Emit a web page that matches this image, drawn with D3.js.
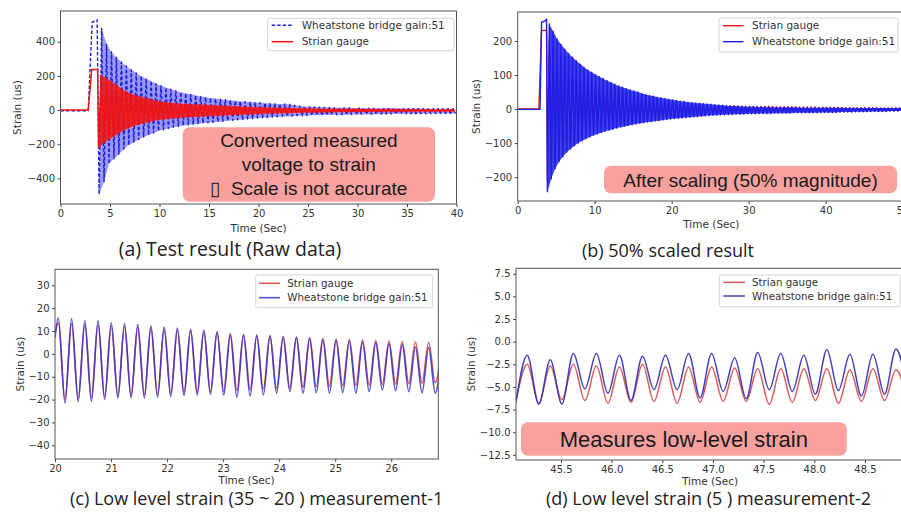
<!DOCTYPE html>
<html>
<head>
<meta charset="utf-8">
<script src="https://cdn.jsdelivr.net/npm/d3@7"></script>
<style>
  body { margin: 0; background: #fff; }
  svg { display: block; }
</style>
</head>
<body>
<svg id="fig" width="901" height="512"></svg>
<script>
/*------------------------------------------------------------------------
 *                  DATA  (time in sec, strain in us)
 *  Oscillating parts are stored as successive peaks / troughs,
 *  one value every `step` seconds starting at the given t0.
 *------------------------------------------------------------------------*/

// (a) raw data
const aStep = 0.5
const aBlueLeadT = [0, 2.8, 3.2, 3.45, 3.7]
const aBlueLeadV = [-4, -4, 515, 520, 528]
const aBlueTroughT0 = 3.9
const aBlueTroughs = [-494,-420,-315,-285,-258,-228,-205,-188,-172,-158,
  -146,-134,-123,-115,-108,-101,-96,-91,-87,-83,
  -80,-77,-75,-72,-69,-66,-63,-60,-57,-55,
  -52,-49,-47,-45,-43,-41,-40,-38,-37,-36,
  -34,-33,-32,-31,-30,-30,-29,-28,-28,-27,
  -27,-26,-26,-25,-25,-24,-24,-24,-23,-23,
  -23,-22,-22,-22,-21,-21,-21,-21,-20,-20,
  -20,-20,-19]
const aBluePeakT0 = 4.15
const aBluePeaks = [480,385,340,308,282,258,236,218,200,185,
  170,155,143,132,122,113,105,98,92,86,
  80,75,71,67,63,60,57,54,51,49,
  47,45,43,41,39,37,36,36,34,28,
  24,21,19,18,17,16,15,14,14,13,
  13,12,12,12,11,11,11,10,10,10,
  10,9,9,9,9,9,8,8,8,8,
  8,8]
const aRedLeadT = [0, 2.8, 3.15, 3.75]
const aRedLeadV = [0, 0, 238, 238]
const aRedTroughT0 = 3.85
const aRedTroughs = [-222,-195,-174,-156,-138,-120,-106,-95,-86,-78,
  -71,-64,-58,-55,-51,-48,-46,-44,-42,-41,
  -39,-38,-36,-35,-33,-32,-31,-29,-28,-27,
  -26,-24,-23,-22,-21,-20,-19,-19,-18,-17,
  -16,-15,-15,-14,-14,-13,-13,-13,-12,-12,
  -12,-11,-11,-11,-11,-10,-10,-10,-10,-10,
  -10,-9,-10,-9,-9,-9,-9,-9,-8,-9,
  -8,-8,-8]
const aRedPeakT0 = 4.1
const aRedPeaks = [205,188,168,150,128,108,96,86,78,70,
  63,56,50,46,43,40,38,36,35,33,
  32,31,29,28,26,25,23,22,21,20,
  18,17,16,15,14,14,13,12,12,11,
  10,10,9,9,9,8,8,8,7,7,
  7,7,6,6,6,6,6,5,5,6,
  5,5,5,5,5,4,5,4,4,4,
  4,4]

// (b) 50% scaled result
const bStep = 0.5
const bRedLeadT = [0, 2.75, 3.1, 3.75]
const bRedLeadV = [0, 0, 231, 231]
const bRedTroughT0 = 3.85
const bRedTroughs = [-212,-190,-170,-152,-136,-120,-106,-95,-86,-78,
  -71,-64,-58,-54,-51,-48,-46,-44,-42,-40,
  -39,-37,-36,-34,-33,-32,-30,-29,-28,-27,
  -26,-24,-23,-22,-21,-20,-19,-18,-18,-17,
  -16,-15,-15,-14,-14,-13,-13,-12,-12,-12,
  -11,-11,-11,-10,-10,-10,-10,-10,-9,-9,
  -9,-9,-9,-9,-8,-8,-8,-8,-8,-8,
  -8,-7,-7,-7,-7,-7,-7,-6,-6,-6,
  -6,-6,-6,-6,-6,-5,-5,-5,-5,-5,
  -5,-5,-5]
const bRedPeakT0 = 4.1
const bRedPeaks = [205,188,168,150,128,108,96,86,78,70,
  63,56,50,46,43,40,38,36,34,32,
  30,28,26,24,22,21,19,18,17,16,
  15,15,14,13,13,12,12,11,11,11,
  10,10,10,10,9,9,9,9,9,9,
  8,8,8,8,8,8,8,8,8,7,
  7,7,7,7,7,6,6,6,6,6,
  5,5,5,5,5,5,4,4,4,4,
  4,4,4,4,4,4,3,3,3,3,
  3,3]
const bBlueLeadT = [0, 2.9, 3.1, 3.5, 3.75]
const bBlueLeadV = [-1, -1, 255, 258, 264]
const bBlueTroughT0 = 3.86
const bBlueTroughs = [-243,-205,-175,-155,-140,-127,-117,-108,-100,-93,
  -87,-82,-77,-73,-69,-65,-62,-59,-56,-53,
  -51,-48,-46,-44,-42,-40,-38,-37,-35,-34,
  -32,-31,-29,-28,-27,-26,-25,-24,-23,-22,
  -21,-20,-19,-18,-18,-17,-17,-16,-16,-15,
  -15,-15,-14,-14,-14,-13,-13,-13,-13,-12,
  -12,-12,-12,-12,-11,-11,-11,-11,-11,-11,
  -11,-10,-10,-10,-10,-10,-9,-9,-9,-9,
  -8,-8,-8,-8,-7,-7,-7,-7,-7,-6,
  -6,-6,-6]
const bBluePeakT0 = 4.11
const bBluePeaks = [250,228,206,190,176,163,152,142,132,123,
  115,108,101,95,89,83,78,73,68,64,
  60,56,53,50,46,43,40,38,35,33,
  31,29,27,25,23,22,20,19,18,17,
  16,15,14,13,12,11,10,9,9,8,
  8,7,7,7,6,6,6,6,5,5,
  5,5,5,5,5,4,4,4,4,4,
  4,4,4,4,4,4,4,3,3,3,
  3,3,3,3,3,3,3,3,3,3,
  3,3]

// (c) low level strain, measurement-1
const cStep = 0.236
const cPeakT0 = 20.06
const cTroughT0 = 20.178
const cRedLeadT = [20.0]
const cRedLeadV = [9]
const cRedPeaks = [13.5,13.2,12.8,12.6,12.3,12,11.6,11.2,10.8,10.5,
  10.2,9.8,9.4,9,8.6,8.3,8,7.7,7.4,7.1,
  6.8,6.5,6.3,6,5.8,5.6,5.4,5.2,5,4.8]
const cRedTroughs = [-20,-19.5,-19.2,-18.8,-18.5,-18.2,-18,-17.7,-17.4,-17.1,
  -16.8,-16.5,-16.3,-16,-15.7,-15.4,-15.1,-14.9,-14.6,-14.4,
  -14.2,-14,-13.8,-13.6,-13.4,-13.2,-13,-12.8,-12.6]
const cBlueLeadT = [20.0]
const cBlueLeadV = [7]
const cBluePeaks = [15.8,15.4,14.6,14.6,13.6,13.2,12.8,12.3,11.7,11.3,
  10.6,10.3,9.7,8.1,8.1,7.8,7.8,7.4,7.1,6.7,
  6.2,5.9,5.5,5.2,4.9,4.5,4.1,3,2.8,2.6]
const cBlueTroughs = [-21.6,-20.9,-20.9,-19.9,-19.3,-19.3,-19.3,-19,-18.7,-18.3,
  -18,-17.7,-18,-19,-18.4,-18,-17.2,-16.5,-17.2,-17,
  -17.2,-17,-17.2,-16.5,-15.8,-16.1,-16.5,-17,-17.2]

// (d) low level strain, measurement-2
const dStep = 0.2275
const dPeakT0 = 45.167
const dTroughT0 = 45.281
const dRedLeadT = [45.056]
const dRedLeadV = [-6.5]
const dRedPeaks = [-2.5,-2.7,-2.5,-2.7,-2.8,-2.5,-2.8,-2.8,-2.8,-2.9,
  -3,-3,-3,-3,-3.1,-3,-3.1]
const dRedTroughs = [-6.8,-6.4,-6.5,-6.8,-6.7,-6.6,-6.8,-6.7,-6.6,-6.6,
  -6.9,-6.7,-6.5,-6.8,-6.6,-6.5,-6.5]
const dBlueLeadT = [45.056]
const dBlueLeadV = [-6.7]
const dBluePeaks = [-1.5,-2,-1.3,-1.3,-1.5,-1.6,-1.5,-1.3,-1.3,-1.8,
  -1.2,-1.3,-1.5,-0.9,-1.4,-1.4,-0.8]
const dBlueTroughs = [-6.9,-6.9,-5.2,-5.7,-6.5,-5.3,-5.3,-6.2,-5.5,-6.3,
  -5.3,-5.5,-5.8,-5.4,-6,-5.8,-5.5]

// tick values
const aTicksX = [0, 5, 10, 15, 20, 25, 30, 35, 40]
const aTicksY = [-400, -200, 0, 200, 400]
const bTicksX = [0, 10, 20, 30, 40, 50]
const bTicksY = [-200, -100, 0, 100, 200]
const cTicksX = [20, 21, 22, 23, 24, 25, 26]
const cTicksY = [-40, -30, -20, -10, 0, 10, 20, 30]
const dTicksX = [45.5, 46.0, 46.5, 47.0, 47.5, 48.0, 48.5]
const dTicksY = [-12.5, -10.0, -7.5, -5.0, -2.5, 0.0, 2.5, 5.0, 7.5]

const labelGauge = "Strian gauge"
const labelBridge = "Wheatstone bridge gain:51"

/*------------------------------------------------------------------------
 *                              helpers
 *------------------------------------------------------------------------*/
function oscillation(leadT, leadV, troughT0, troughs, peakT0, peaks, step) {
    let upper = peaks.map((v, k) => [peakT0 + k * step, v])
    let lower = troughs.map((v, k) => [troughT0 + k * step, v])
    let pts = leadT.map((t, i) => [t, leadV[i]]).concat(upper, lower)
    pts.sort((p, q) => p[0] - q[0])
    return { points: pts, upper: upper, lower: lower }
}

const svg = d3.select("#fig")
svg.append("rect").attr("width", 901).attr("height", 512).attr("fill", "#fff")
const defs = svg.append("defs")

const tickFont = "'DejaVu Sans', sans-serif"
const boxFont = "'Liberation Sans', Arial, sans-serif"
const capFont = "'Open Sans', sans-serif"

function drawPanel(p) {
    let g = svg.append("g").attr("id", "panel-" + p.id)

    let x = d3.scaleLinear().domain(p.xDomain).range([p.left, p.right])
    let y = d3.scaleLinear().domain(p.yDomain).range([p.bottom, p.top])

    defs.append("clipPath").attr("id", "clip-" + p.id)
        .append("rect")
        .attr("x", p.left).attr("y", p.top)
        .attr("width", p.right - p.left).attr("height", p.bottom - p.top)

    let line = d3.line()
        .x(d => x(d[0]))
        .y(d => y(d[1]))
    let plot = g.append("g").attr("clip-path", "url(#clip-" + p.id + ")")

    p.series.forEach(s => {
        // dense oscillation: shade the band between the peak and trough envelopes
        if (s.band) {
            plot.append("path")
                .attr("fill", s.color)
                .attr("fill-opacity", s.band)
                .attr("stroke", "none")
                .attr("d", line(s.data.upper.concat(s.data.lower.slice().reverse())) + "Z")
        }
        plot.append("path")
            .datum(s.data.points)
            .attr("fill", "none")
            .attr("stroke", s.color)
            .attr("stroke-width", s.width)
            .attr("stroke-opacity", s.opacity)
            .attr("stroke-dasharray", s.dash)
            .attr("stroke-linejoin", "round")
            .attr("d", line.curve(p.curve))
        line.curve(d3.curveLinear)
    })

    // axes
    let xAxis = g.append("g")
        .attr("transform", "translate(0," + p.bottom + ")")
        .call(d3.axisBottom(x).tickValues(p.xTicks).tickFormat(p.xFormat)
            .tickSize(3).tickPadding(2.5))
    let yAxis = g.append("g")
        .attr("transform", "translate(" + p.left + ",0)")
        .call(d3.axisLeft(y).tickValues(p.yTicks).tickFormat(p.yFormat)
            .tickSize(3).tickPadding(2.5))
    ;[xAxis, yAxis].forEach(a => {
        a.select(".domain").remove()
        a.attr("font-family", tickFont).attr("font-size", 10)
        a.selectAll("line").attr("stroke", "#444")
        a.selectAll("text").attr("fill", "#333")
    })

    // frame
    g.append("rect")
        .attr("x", p.left).attr("y", p.top)
        .attr("width", p.right - p.left).attr("height", p.bottom - p.top)
        .attr("fill", "none").attr("stroke", "#555").attr("stroke-width", 1)

    // axis titles
    g.append("text")
        .attr("x", (p.left + p.right) / 2).attr("y", p.xLabelY)
        .attr("text-anchor", "middle")
        .attr("font-family", tickFont).attr("font-size", 10.5).attr("fill", "#333")
        .text("Time (Sec)")
    g.append("text")
        .attr("transform", "translate(" + p.yLabelX + "," + (p.top + p.bottom) / 2 + ") rotate(-90)")
        .attr("dy", "0.35em")
        .attr("text-anchor", "middle")
        .attr("font-family", tickFont).attr("font-size", 10.5).attr("fill", "#333")
        .text("Strain (us)")

    // legend
    let L = p.legend
    let lg = g.append("g")
    lg.append("rect")
        .attr("x", L.x).attr("y", L.y).attr("width", L.w).attr("height", L.h)
        .attr("rx", 2)
        .attr("fill", "#fff").attr("fill-opacity", 0.85)
        .attr("stroke", "#d4d4d4")
    L.order.forEach((si, i) => {
        let s = p.series[si]
        let ly = L.y + L.first + i * L.gap
        lg.append("line")
            .attr("x1", L.x + L.lineFrom).attr("x2", L.x + L.lineTo)
            .attr("y1", ly).attr("y2", ly)
            .attr("stroke", s.color).attr("stroke-width", s.width)
            .attr("stroke-opacity", s.opacity)
            .attr("stroke-dasharray", s.dash)
        lg.append("text")
            .attr("x", L.x + L.textAt).attr("y", ly).attr("dy", "0.35em")
            .attr("font-family", tickFont).attr("font-size", L.fontSize).attr("fill", "#333")
            .text(s.label)
    })

    // pink annotation box
    if (p.note) {
        let n = p.note
        g.append("rect")
            .attr("x", n.x).attr("y", n.y).attr("width", n.w).attr("height", n.h)
            .attr("rx", 7)
            .attr("fill", "#f8a19f")
        n.lines.forEach((t, i) => {
            g.append("text")
                .attr("x", n.x + n.w / 2).attr("y", n.y + n.firstBase + i * n.lineGap)
                .attr("text-anchor", "middle")
                .attr("font-family", boxFont).attr("font-size", n.fontSize).attr("fill", "#1a1a1a")
                .style("white-space", "pre")
                .text(t)
        })
    }

    // caption below the panel
    svg.append("text")
        .attr("x", p.caption.x).attr("y", p.caption.y)
        .attr("text-anchor", "middle")
        .attr("font-family", capFont).attr("font-size", p.caption.size).attr("fill", "#222")
        .text(p.caption.text)
}

/*------------------------------------------------------------------------
 *                              panels
 *------------------------------------------------------------------------*/
const red = "#f01414", blue = "#1e1ee6"
const intFmt = d3.format("d"), oneFmt = d3.format(".1f")

drawPanel({
    id: "a", left: 60.5, right: 456.5, top: 11, bottom: 204,
    xDomain: [0, 40], yDomain: [-550, 580],
    xTicks: aTicksX, yTicks: aTicksY, xFormat: intFmt, yFormat: intFmt,
    xLabelY: 232, yLabelX: 17.7,
    curve: d3.curveLinear,
    series: [
        { label: labelBridge, color: blue, width: 1.4, opacity: 1, dash: "3.5,2", band: 0.45,
          data: oscillation(aBlueLeadT, aBlueLeadV, aBlueTroughT0, aBlueTroughs, aBluePeakT0, aBluePeaks, aStep) },
        { label: labelGauge, color: red, width: 1.5, opacity: 1, dash: null, band: 0.85,
          data: oscillation(aRedLeadT, aRedLeadV, aRedTroughT0, aRedTroughs, aRedPeakT0, aRedPeaks, aStep) }
    ],
    legend: { x: 267.7, y: 18.3, w: 186.3, h: 32.4, first: 6.9, gap: 16.5,
              lineFrom: 4, lineTo: 25.6, textAt: 34, fontSize: 10.5, order: [0, 1] },
    note: { x: 182.7, y: 127.3, w: 252.3, h: 74.4, firstBase: 19.4, lineGap: 24.2, fontSize: 19,
            lines: ["Converted measured", "voltage to strain", "\u25AF  Scale is not accurate"] },
    caption: { x: 230, y: 256, size: 19.5, text: "(a) Test result (Raw data)" }
})

drawPanel({
    id: "b", left: 517.7, right: 905, top: 12, bottom: 201,
    xDomain: [0, 50.3], yDomain: [-270, 285],
    xTicks: bTicksX, yTicks: bTicksY, xFormat: intFmt, yFormat: intFmt,
    xLabelY: 228, yLabelX: 476.7,
    curve: d3.curveLinear,
    series: [
        { label: labelGauge, color: red, width: 1.4, opacity: 1, dash: null, band: 0,
          data: oscillation(bRedLeadT, bRedLeadV, bRedTroughT0, bRedTroughs, bRedPeakT0, bRedPeaks, bStep) },
        { label: labelBridge, color: blue, width: 1.4, opacity: 1, dash: null, band: 0.85,
          data: oscillation(bBlueLeadT, bBlueLeadV, bBlueTroughT0, bBlueTroughs, bBluePeakT0, bBluePeaks, bStep) }
    ],
    legend: { x: 719, y: 18, w: 179, h: 34, first: 7.7, gap: 16,
              lineFrom: 4, lineTo: 24.5, textAt: 33, fontSize: 10.5, order: [0, 1] },
    note: { x: 604, y: 165.7, w: 293, h: 27.6, firstBase: 21, lineGap: 0, fontSize: 19,
            lines: ["After scaling (50% magnitude)"] },
    caption: { x: 668, y: 256.5, size: 18, text: "(b) 50% scaled result" }
})

drawPanel({
    id: "c", left: 55, right: 438.3, top: 269.3, bottom: 459,
    xDomain: [20, 26.84], yDomain: [-46, 37],
    xTicks: cTicksX, yTicks: cTicksY, xFormat: intFmt, yFormat: intFmt,
    xLabelY: 484, yLabelX: 20.5,
    curve: d3.curveMonotoneX,
    series: [
        { label: labelGauge, color: "#d83c3c", width: 1.6, opacity: 0.85, dash: null, band: 0,
          data: oscillation(cRedLeadT, cRedLeadV, cTroughT0, cRedTroughs, cPeakT0, cRedPeaks, cStep) },
        { label: labelBridge, color: "#3434cc", width: 1.6, opacity: 0.85, dash: null, band: 0,
          data: oscillation(cBlueLeadT, cBlueLeadV, cTroughT0, cBlueTroughs, cPeakT0, cBluePeaks, cStep) }
    ],
    legend: { x: 255.7, y: 275, w: 177, h: 32.7, first: 8.3, gap: 14.4,
              lineFrom: 3.3, lineTo: 24.3, textAt: 31.6, fontSize: 10.3, order: [0, 1] },
    note: null,
    caption: { x: 256.7, y: 505, size: 18, text: "(c) Low level strain (35 ~ 20 ) measurement-1" }
})

drawPanel({
    id: "d", left: 516, right: 904, top: 268.3, bottom: 460,
    xDomain: [45.056, 48.886], yDomain: [-13.07, 8.1],
    xTicks: dTicksX, yTicks: dTicksY, xFormat: oneFmt, yFormat: oneFmt,
    xLabelY: 485, yLabelX: 471,
    curve: d3.curveMonotoneX,
    series: [
        { label: labelGauge, color: "#d83c3c", width: 1.5, opacity: 0.85, dash: null, band: 0,
          data: oscillation(dRedLeadT, dRedLeadV, dTroughT0, dRedTroughs, dPeakT0, dRedPeaks, dStep) },
        { label: labelBridge, color: "#2e2eb8", width: 1.5, opacity: 0.9, dash: null, band: 0,
          data: oscillation(dBlueLeadT, dBlueLeadV, dTroughT0, dBlueTroughs, dPeakT0, dBluePeaks, dStep) }
    ],
    legend: { x: 719.3, y: 275, w: 181, h: 31.7, first: 7.3, gap: 13.7,
              lineFrom: 4, lineTo: 25.7, textAt: 32.7, fontSize: 10.3, order: [0, 1] },
    note: { x: 521, y: 422.3, w: 325.7, h: 33.4, firstBase: 24.4, lineGap: 0, fontSize: 22,
            lines: ["Measures low-level strain"] },
    caption: { x: 708.5, y: 505, size: 18, text: "(d) Low level strain (5 ) measurement-2" }
})
</script>
</body>
</html>
